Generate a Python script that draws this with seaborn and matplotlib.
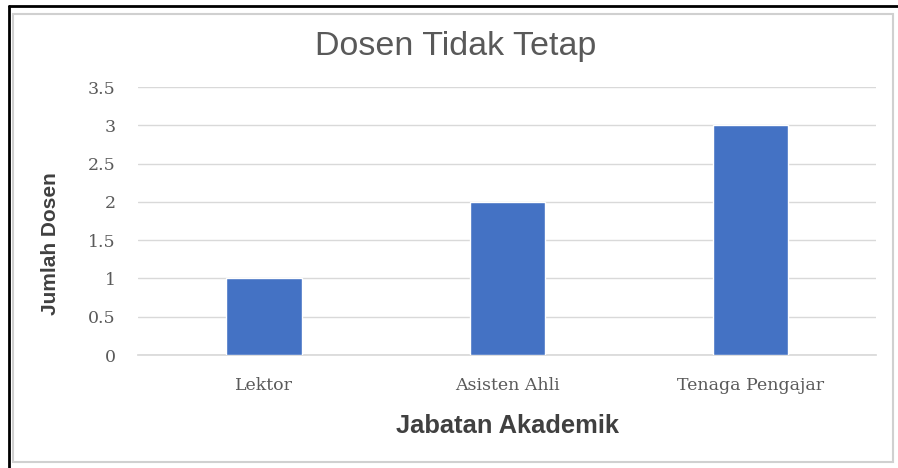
import matplotlib
matplotlib.use("Agg")
import matplotlib.pyplot as plt
from matplotlib.patches import Rectangle
from matplotlib.lines import Line2D
import seaborn as sns
import pandas as pd

categories = ["Lektor", "Asisten Ahli", "Tenaga Pengajar"]
jumlah = [1, 2, 3]
y_ticks = [0, 0.5, 1, 1.5, 2, 2.5, 3, 3.5]
y_tick_labels = ["0", "0.5", "1", "1.5", "2", "2.5", "3", "3.5"]

sns.set_theme(style="white")
plt.rcParams["font.family"] = ["Liberation Sans", "DejaVu Sans"]

df = pd.DataFrame({"Jabatan": categories, "Jumlah": jumlah})

fig = plt.figure(figsize=(8.98, 4.68), dpi=100)
ax = fig.add_axes([138 / 898, 113 / 468, (876 - 138) / 898, (355 - 87) / 468])

sns.barplot(data=df, x="Jabatan", y="Jumlah", color="#4472C4", saturation=1,
            width=0.31, ax=ax, zorder=3)

ax.set_ylim(0, 3.5)
ax.set_xlim(-0.517, 2.515)
ax.set_yticks(y_ticks)
ax.set_yticklabels(y_tick_labels)
ax.yaxis.grid(True, color="#D9D9D9", linewidth=1)
ax.set_axisbelow(True)
for s in ["top", "right", "left"]:
    ax.spines[s].set_visible(False)
ax.spines["bottom"].set_color("#D9D9D9")
ax.tick_params(axis="both", length=0, colors="#5A5A5A")
ax.tick_params(axis="x", labelsize=12.5, pad=22)
ax.tick_params(axis="y", labelsize=12.5, pad=16)
for t in ax.get_xticklabels() + ax.get_yticklabels():
    t.set_family(["DejaVu Serif"])
for t in ax.get_xticklabels():
    t.set_va("center")

ax.set_xlabel("Jabatan Akademik", fontsize=18.4, fontweight="bold", color="#404040")
ax.xaxis.set_label_coords(0.5, -(426 - 355) / 268, transform=ax.transAxes)
ax.xaxis.label.set_va("center")
ax.set_ylabel("Jumlah Dosen", fontsize=15, fontweight="bold", color="#404040")
ax.yaxis.set_label_coords(-(138 - 50) / 738, (355 - 244) / 268, transform=ax.transAxes)
ax.yaxis.label.set_va("center")

fig.text(456 / 898, 1 - 46 / 468, "Dosen Tidak Tetap", ha="center", va="center",
         fontsize=24.5, color="#595959")

# frame around the chart area
fig.add_artist(Rectangle((13 / 898, 6 / 468), (893 - 13) / 898, (458 - 10) / 468,
                         transform=fig.transFigure, fill=False,
                         edgecolor="#D0D0D0", linewidth=1.5))
fig.add_artist(Line2D([9 / 898, 1], [1 - 6 / 468, 1 - 6 / 468],
                      transform=fig.transFigure, color="black", linewidth=2))
fig.add_artist(Line2D([9 / 898, 9 / 898], [0, 1 - 6 / 468],
                      transform=fig.transFigure, color="black", linewidth=2))

fig.savefig("out.png", dpi=100, facecolor="white")
